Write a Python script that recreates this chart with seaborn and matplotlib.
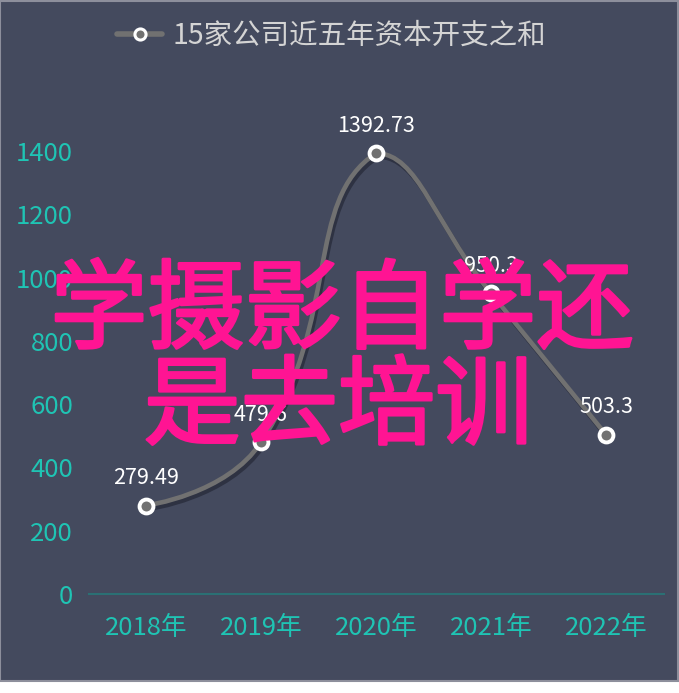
import numpy as np
import pandas as pd
import seaborn as sns
import matplotlib.pyplot as plt
from matplotlib.path import Path
from matplotlib.patches import PathPatch, Rectangle
import matplotlib.patheffects as pe

years = ['2018年', '2019年', '2020年', '2021年', '2022年']
capex = [279.49, 479.6, 1392.73, 950.3, 503.3]
value_labels = ['279.49', '479.6', '1392.73', '950.3', '503.3']
yticks = [0, 200, 400, 600, 800, 1000, 1200, 1400]
series_name = '15家公司近五年资本开支之和'
overlay_lines = ['学摄影自学还', '是去培训']

bg = '#444a5e'
teal = '#1fc4b4'
line_gray = '#717171'
pink = '#ff1493'

sns.set_style('white')
plt.rcParams['font.family'] = ['Noto Sans CJK SC', 'DejaVu Sans']

df = pd.DataFrame({'year': years, 'capex': capex})
df['pos'] = np.arange(len(df))

fig = plt.figure(figsize=(6.79, 6.93), dpi=100, facecolor='white')
fig.patches.append(Rectangle((0.0007, 12 / 693), 677.5 / 679, 680.5 / 693,
                             transform=fig.transFigure, facecolor=bg,
                             edgecolor='#8d8f9c', linewidth=1.5, zorder=-5))

ax = fig.add_axes([88.5 / 679, 1 - 594 / 693, 575 / 679, (594 - 87.7) / 693])
ax.set_facecolor('none')
ax.set_zorder(2)
ax.set_xlim(-0.5, len(years) - 0.5)
ax.set_ylim(0, 1600)


def smooth_path(xy, smooth=0.5):
    # smoothed line like echarts (control points clamped to the data's bounding box)
    pts = ax.transData.transform(xy)
    lo, hi = pts.min(axis=0), pts.max(axis=0)
    n = len(pts)
    cps = [pts[0]]
    for k in range(1, n - 1):
        p, prev, nxt = pts[k], pts[k - 1], pts[k + 1]
        v = (nxt - prev) * smooth
        d0 = np.hypot(*(p - prev))
        d1 = np.hypot(*(nxt - p))
        s = d0 + d1
        c_in = np.clip(p - v * d0 / s, lo, hi)
        c_out = np.clip(p + v * d1 / s, lo, hi)
        cps += [c_in, c_out]
    cps.append(pts[-1])
    verts = [pts[0]]
    codes = [Path.MOVETO]
    for k in range(n - 1):
        verts += [cps[2 * k], cps[2 * k + 1], pts[k + 1]]
        codes += [Path.CURVE4] * 3
    verts = ax.transData.inverted().transform(np.array(verts))
    return Path(verts, codes)


curve = PathPatch(smooth_path(df[['pos', 'capex']].to_numpy(dtype=float)),
                  facecolor='none', edgecolor=line_gray, linewidth=3.3, zorder=3,
                  capstyle='round',
                  path_effects=[pe.SimpleLineShadow(offset=(1.5, -2.5), shadow_color='#1c1f2c', alpha=0.55),
                                pe.Normal()])
ax.add_patch(curve)

sns.scatterplot(data=df, x='pos', y='capex', ax=ax, s=100, color=line_gray,
                edgecolor='white', linewidth=2.8, zorder=4, legend=False)

for i, (v, lab) in enumerate(zip(capex, value_labels)):
    ax.annotate(lab, (i, v), xytext=(0, 12), textcoords='offset points',
                ha='center', va='bottom', color='white', fontsize=15.5, zorder=5)

ax.set_xticks(range(len(years)))
ax.set_xticklabels(years)
ax.set_yticks(yticks)
ax.set_yticklabels([str(t) for t in yticks])
ax.tick_params(axis='both', length=0, colors=teal, labelsize=18.5)
ax.tick_params(axis='x', pad=15)
ax.tick_params(axis='y', pad=11)
ax.set_xlabel('')
ax.set_ylabel('')
for side in ['top', 'right', 'left']:
    ax.spines[side].set_visible(False)
ax.spines['bottom'].set_color('#2b7074')
ax.spines['bottom'].set_linewidth(1.5)

# legend
lh = plt.Line2D([], [], color=line_gray, linewidth=4, marker='o', markersize=8,
                markerfacecolor=line_gray, markeredgecolor='white', markeredgewidth=2.2)
leg = fig.legend([lh], [series_name], loc='center', bbox_to_anchor=(0.488, 1 - 36 / 693),
                 frameon=False, fontsize=20.5, handlelength=1.6, handletextpad=0.35)
for t in leg.get_texts():
    t.set_color('#d4d4d4')

# pink overlay text
thick = [pe.withStroke(linewidth=2, foreground=pink)]
fig.text(342 / 679, 1 - 313 / 693, overlay_lines[0], color=pink, fontsize=70,
         ha='center', va='center', zorder=10, path_effects=thick)
fig.text(338 / 679, 1 - 409 / 693, overlay_lines[1], color=pink, fontsize=70,
         ha='center', va='center', zorder=10, path_effects=thick)

fig.savefig('out.png', dpi=100, facecolor='white')
